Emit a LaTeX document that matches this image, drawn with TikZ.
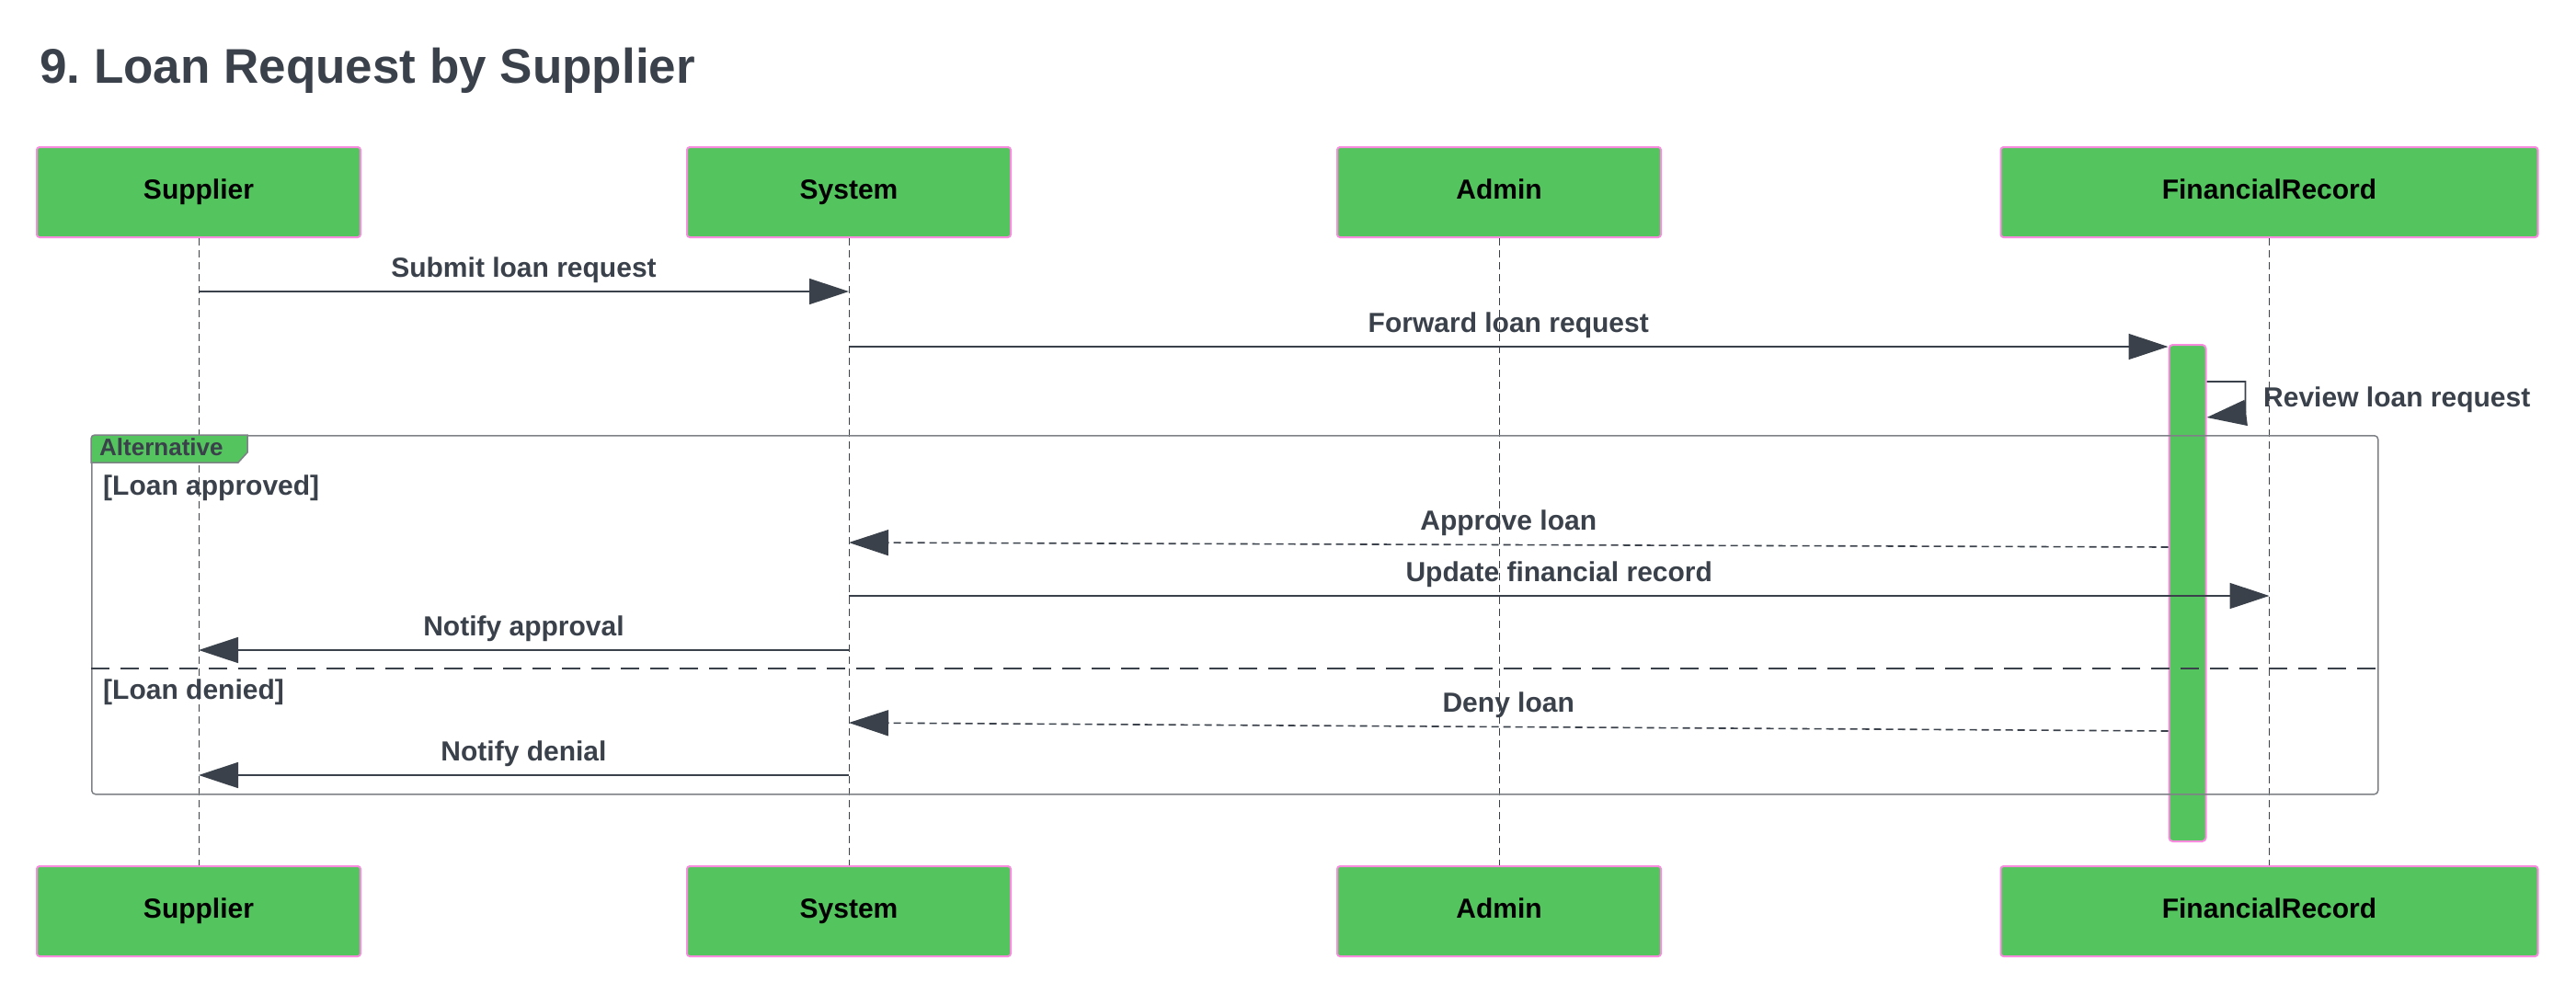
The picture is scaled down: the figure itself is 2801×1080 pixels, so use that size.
\documentclass[tikz,border=0pt]{standalone}
\usepackage{fontspec}
\setmainfont{Liberation Sans}
\usetikzlibrary{arrows.meta,positioning,calc}

\definecolor{actgreen}{HTML}{54C45E}
\definecolor{actpink}{HTML}{F98BDF}
\definecolor{ink}{HTML}{3A414A}
\definecolor{framegrey}{HTML}{7E8186}

\tikzset{
	actor/.style={draw=actpink, line width=2pt, fill=actgreen, rounded corners=3pt,
		minimum height=98pt, inner sep=0, text=black, text height=22pt, text depth=8pt,
		font=\fontsize{30}{36}\selectfont\bfseries},
	actbar/.style={draw=actpink, line width=2pt, fill=actgreen, rounded corners=4pt,
		minimum width=40pt, minimum height=540pt, inner sep=0},
	lifeline/.style={ink, line width=1pt, dash pattern=on 8pt off 5pt},
	msg/.style={ink, line width=1.6pt, -{Triangle[length=43pt,width=28pt]}},
	reply/.style={msg, dash pattern=on 8pt off 5pt},
	msglabel/.style={text=ink, inner sep=0, font=\fontsize{30}{36}\selectfont\bfseries},
	lbl/.style={msglabel, midway, anchor=base, yshift=16pt},
	altframe/.style={draw=framegrey, line width=1.5pt, rounded corners=4pt, inner sep=0},
	sepline/.style={ink, line width=1.5pt, dash pattern=on 20pt off 12pt},
}

\begin{document}
\frenchspacing
\begin{tikzpicture}[x=1pt, y=-1pt]
	\useasboundingbox (0,0) rectangle (2801,1080);

	\def\xSup{216}
	\def\xSys{923}
	\def\xAdm{1630}
	\def\xFin{2467.5}
	%
	\def\yTop{209}
	\def\yBot{991}

	% title
	\node[anchor=base west, inner sep=0, text=ink, font=\fontsize{53}{63}\selectfont\bfseries]
		(title) at (43,90) {9. Loan Request by Supplier};

	% actors and lifelines
	\foreach \name/\x/\txt/\w in {sup/\xSup/Supplier/352, sys/\xSys/System/352,
		adm/\xAdm/Admin/352, fin/\xFin/FinancialRecord/584}{
		\node[actor, minimum width=\w pt] (\name Top) at (\x, \yTop) {\txt};
		\node[actor, minimum width=\w pt] (\name Bot) at (\x, \yBot) {\txt};
		\draw[lifeline] (\name Top) -- (\name Bot);
	}

	% activation
	\node[actbar] (act) at (2378.5, 645) {};

	% alt frame
	\node[altframe, minimum width=2486pt, minimum height=390pt, anchor=north west]
		(alt) at (99,473) {};
	\draw[fill=actgreen, draw=framegrey, line width=1.5pt]
		([xshift=4pt]alt.north west) -- ++(166,0) -- ++(0,19) -- ++(-10,11)
		-- ($(alt.north west)+(0,30)$) -- ($(alt.north west)+(0,4)$)
		arc[start angle=180, end angle=90, radius=4pt] -- cycle;
	\node[msglabel, anchor=base west, font=\fontsize{26}{30}\selectfont\bfseries]
		(altTag) at (108,495) {Alternative};
	\node[msglabel, anchor=base west] (guardA) at (112,538) {[Loan approved]};
	\node[msglabel, anchor=base west] (guardB) at (112,760) {[Loan denied]};
	\draw[sepline] (alt.west |- 0,727) -- (alt.east |- 0,727);

	% messages
	\coordinate (m1a) at (supTop |- 0,317);
	\coordinate (m1b) at (sysTop |- 0,317);
	\coordinate (m2a) at (sysTop |- 0,377);
	\coordinate (m2b) at (act.west |- 0,377);
	\coordinate (m3a) at (act.east |- 0,415);
	\coordinate (m3b) at (act.east |- 0,454);
	\coordinate (m4a) at (act.west |- 0,595);
	\coordinate (m4b) at (sysTop |- 0,590);
	\coordinate (m5a) at (sysTop |- 0,648);
	\coordinate (m5b) at (finTop |- 0,648);
	\coordinate (m6a) at (sysTop |- 0,707);
	\coordinate (m6b) at (supTop |- 0,707);
	\coordinate (m7a) at (act.west |- 0,795);
	\coordinate (m7b) at (sysTop |- 0,786);
	\coordinate (m8a) at (sysTop |- 0,843);
	\coordinate (m8b) at (supTop |- 0,843);

	\draw[msg] (m1a) -- (m1b) node[lbl] {Submit loan request};
	\draw[msg] (m2a) -- (m2b) node[lbl] {Forward loan request};
	\draw[msg] (m3a) -- ++(42,0) -- ++(0,34) -- (m3b);
	\node[msglabel, anchor=base west] (m3lbl) at (2461,442) {Review loan request};
	\draw[reply] (m4a) -- (m4b) node[lbl] {Approve loan};
	\draw[msg] (m5a) -- (m5b) node[lbl] {Update financial record};
	\draw[msg] (m6a) -- (m6b) node[lbl] {Notify approval};
	\draw[reply] (m7a) -- (m7b) node[lbl] {Deny loan};
	\draw[msg] (m8a) -- (m8b) node[lbl] {Notify denial};

\end{tikzpicture}
\end{document}
